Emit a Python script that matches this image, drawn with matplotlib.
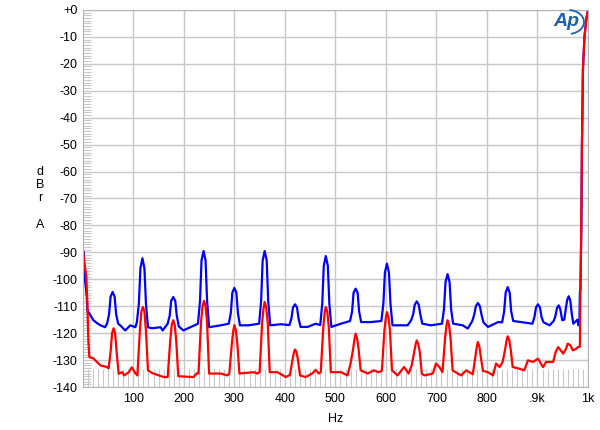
import matplotlib.pyplot as plt
from matplotlib.patches import Arc
from matplotlib.ticker import MultipleLocator

plt.rcParams['font.family'] = ['Liberation Sans', 'DejaVu Sans']

# blue trace (frequency Hz, level dBr A)
blue_hz = [2, 3, 8, 9, 15, 21, 29, 35, 44, 48,
           52, 55, 59, 63, 66, 70,
           74, 84, 94, 104, 107,
           111, 114, 118, 122, 125, 129,
           137, 154, 158, 168,
           172, 175, 179, 183, 186, 190,
           199, 213, 228,
           232, 235, 239, 243, 246, 250,
           273, 289,
           293, 296, 300, 304, 307, 311,
           328, 349,
           353, 356, 360, 364, 367, 371,
           392, 409,
           413, 416, 420, 424, 427, 431,
           445, 461, 470,
           474, 477, 481, 485, 488, 492,
           511, 529,
           533, 536, 540, 544, 547, 551,
           570, 591,
           595, 598, 602, 606, 609, 613,
           643, 650,
           654, 657, 661, 665, 668, 672,
           689, 711,
           715, 718, 722, 726, 729, 733,
           752, 762, 771,
           775, 778, 782, 786, 789, 793,
           802, 822, 830,
           834, 837, 841, 845, 848, 852,
           868, 890,
           894, 897, 901, 905, 908, 912,
           924, 932,
           935, 939, 942, 945, 949,
           953, 956, 959, 962, 965, 968, 971,
           979, 981, 983, 984,
           985, 987, 988, 990, 993, 997, 1000]
blue_db = [-90.0, -97.8, -106.7, -111.5, -113.4, -115.2, -116.4, -117.1, -117.8, -116.5,
           -113.0, -106.5, -104.7, -106.5, -113.0, -116.5,
           -117.1, -119.0, -117.1, -117.8, -116.0,
           -109.0, -96.0, -92.2, -96.0, -109.0, -117.8,
           -118.2, -117.8, -119.0, -116.5,
           -113.5, -108.0, -106.6, -108.0, -113.5, -117.5,
           -119.0, -117.8, -116.5,
           -108.0, -93.0, -89.5, -93.0, -108.0, -117.8,
           -117.1, -116.5,
           -112.5, -105.0, -103.2, -105.0, -112.5, -117.1,
           -117.1, -116.5,
           -108.0, -93.0, -89.5, -93.0, -108.0, -117.1,
           -116.7, -117.0,
           -114.5, -110.5, -109.3, -110.5, -114.5, -117.7,
           -117.7, -116.5, -117.0,
           -109.0, -95.0, -91.4, -95.0, -109.0, -117.7,
           -116.5, -115.5,
           -112.0, -105.0, -103.5, -105.0, -112.0, -115.9,
           -115.9, -115.5,
           -109.0, -97.5, -94.2, -97.5, -109.0, -117.1,
           -117.1, -115.2,
           -113.0, -109.5, -108.2, -109.5, -113.0, -116.5,
           -117.1, -116.5,
           -111.0, -101.0, -98.1, -101.0, -111.0, -116.5,
           -117.1, -118.3, -115.5,
           -113.0, -110.0, -108.8, -110.0, -113.0, -116.0,
           -117.7, -115.9, -116.0,
           -112.0, -105.0, -102.9, -105.0, -112.0, -115.5,
           -115.9, -116.5,
           -114.0, -110.5, -109.3, -110.5, -114.0, -116.0,
           -117.1, -115.5,
           -114.0, -110.5, -109.7, -111.0, -115.2,
           -115.0, -111.0, -107.5, -106.3, -108.0, -113.0, -116.5,
           -115.0, -117.1, -116.0, -104.7,
           -104.0, -80.0, -50.0, -22.0, -10.0, -3.0, 0.0]

# red trace (frequency Hz, level dBr A)
red_hz = [1, 3, 7, 9, 11, 13, 21, 28, 35, 48, 51,
          55, 58, 61, 64, 67, 71,
          78, 82, 91, 97, 104, 108,
          113, 116, 119, 122, 125, 129,
          137, 160, 168,
          173, 176, 179, 182, 185, 189,
          219, 226, 229,
          234, 237, 240, 243, 246, 250,
          273, 286, 290,
          295, 298, 300, 303, 306, 310,
          339, 345, 350,
          355, 358, 360, 363, 366, 370,
          385, 402, 410,
          415, 418, 420, 423, 426, 430,
          441, 454, 461, 467, 471,
          476, 479, 481, 484, 487, 491,
          511, 524, 530,
          535, 538, 540, 543, 546, 550,
          564, 576, 585, 592,
          597, 600, 602, 605, 608, 612,
          623, 636, 645, 651,
          656, 659, 661, 664, 667, 671,
          676, 693, 699, 706, 712,
          717, 720, 722, 725, 728, 732,
          742, 749, 759, 772,
          777, 780, 782, 785, 788, 792,
          802, 812, 818, 825, 831,
          836, 839, 841, 844, 847, 851,
          864, 874, 881, 891, 901, 911, 917, 931,
          936, 941, 951, 956, 960, 965, 970, 975, 980, 984,
          985, 986, 987, 988, 989, 990, 993, 997, 1000]
red_db = [-90.4, -93.6, -99.1, -108.9, -122.7, -128.9, -129.4, -130.7, -132.0, -132.6, -133.1,
          -127.0, -120.0, -118.2, -120.0, -127.0, -135.1,
          -134.5, -135.7, -134.5, -132.7, -134.9, -135.7,
          -119.0, -112.0, -110.3, -112.0, -119.0, -133.8,
          -134.8, -136.3, -136.3,
          -123.0, -117.0, -115.2, -117.0, -123.0, -136.0,
          -136.3, -134.9, -135.0,
          -116.0, -110.0, -108.0, -110.0, -116.0, -135.0,
          -135.0, -135.7, -135.0,
          -124.0, -119.0, -117.0, -119.0, -124.0, -135.0,
          -134.5, -135.0, -134.5,
          -116.0, -110.5, -108.4, -110.5, -116.0, -134.5,
          -134.5, -136.3, -135.5,
          -130.0, -127.0, -126.1, -127.0, -130.0, -135.7,
          -136.3, -135.0, -133.6, -135.0, -134.5,
          -118.0, -112.0, -110.3, -112.0, -118.0, -134.5,
          -134.5, -135.7, -131.3,
          -126.0, -122.0, -120.2, -122.0, -126.0, -133.8,
          -135.0, -133.8, -134.5, -134.0,
          -119.0, -114.0, -112.2, -114.0, -119.0, -133.8,
          -135.7, -132.6, -135.0, -132.0,
          -127.0, -124.0, -122.7, -124.0, -127.0, -135.0,
          -135.7, -135.0, -131.3, -132.6, -134.5,
          -122.0, -117.0, -115.2, -117.0, -122.0, -133.8,
          -135.0, -135.7, -133.8, -135.3,
          -129.0, -125.0, -123.3, -125.0, -129.0, -134.0,
          -134.5, -135.7, -131.3, -132.6, -130.7,
          -126.0, -122.5, -121.2, -122.5, -126.0, -132.6,
          -133.2, -133.8, -130.1, -130.7, -129.5, -132.6, -130.7, -130.7,
          -127.0, -125.2, -127.6, -126.0, -123.9, -124.5, -126.4, -126.0, -125.2, -125.0,
          -105.0, -90.0, -70.0, -50.0, -40.0, -22.0, -10.0, -3.0, 0.0]

y_ticks = list(range(0, -141, -10))
y_labels = ['+0'] + [str(v) for v in y_ticks[1:]]
x_ticks = [100, 200, 300, 400, 500, 600, 700, 800, 900, 1000]
x_labels = ['100', '200', '300', '400', '500', '600', '700', '800', '.9k', '1k']

fig = plt.figure(figsize=(6, 4.3), dpi=100)
ax = fig.add_axes([0.138, 0.1, 0.842, 0.877])

ax.plot(blue_hz, blue_db, color='#0000ff', lw=1.6)
ax.plot(red_hz, red_db, color='#ff0000', lw=1.6)

ax.set_xlim(0, 1000)
ax.set_ylim(-140, 0)
ax.set_xticks(x_ticks)
ax.set_xticklabels(x_labels)
ax.set_yticks(y_ticks)
ax.set_yticklabels(y_labels)
ax.xaxis.set_minor_locator(MultipleLocator(10))
ax.yaxis.set_minor_locator(MultipleLocator(1))
ax.tick_params(which='major', length=0, labelsize=9, pad=4)
ax.tick_params(axis='x', which='minor', direction='in', length=13, width=0.8, color='#c8c8c8')
ax.tick_params(axis='y', which='minor', direction='in', length=6, width=0.8, color='#c8c8c8')
ax.grid(True, which='major', color='#c8c8c8', lw=1)
ax.set_axisbelow(True)
for s in ax.spines.values():
    s.set_color('#b4b4b4')

ax.set_xlabel('Hz', fontsize=9, labelpad=6)
for ch, yy in [('d', 172), ('B', 185), ('r', 198), ('A', 225)]:
    fig.text(40 / 600, 1 - yy / 430, ch, fontsize=9, ha='center', va='center')

# AP logo
fig.text(566 / 600, 1 - 22 / 430, 'Ap', fontsize=14, fontstyle='italic', fontweight='bold',
         color='#2060a8', ha='center', va='center')
fig.patches.append(Arc((568 / 600, 1 - 22 / 430), 32 / 600, 24 / 430, theta1=-80, theta2=85,
                       transform=fig.transFigure, color='#2060a8', lw=1.3))

fig.savefig('out.png', dpi=100)
